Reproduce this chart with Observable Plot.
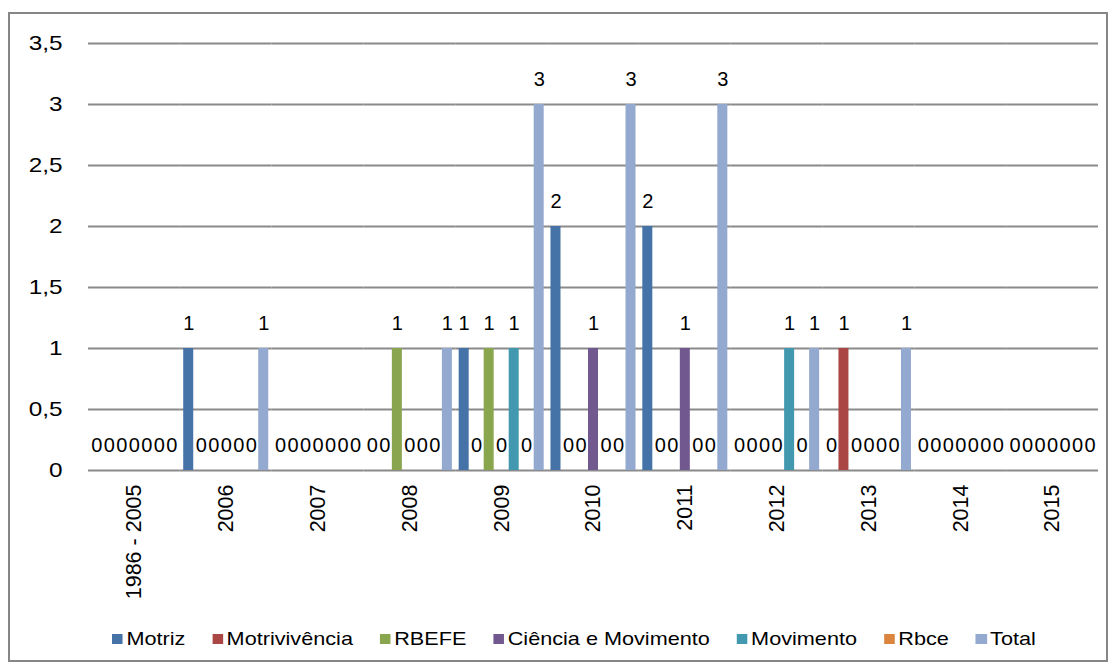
<!DOCTYPE html>
<html>
<head>
<meta charset="utf-8">
<script src="https://cdn.jsdelivr.net/npm/d3@7"></script>
<script src="https://cdn.jsdelivr.net/npm/@observablehq/plot@0.6"></script>
<style>
  html, body { margin: 0; padding: 0; background: #fff; }
  body { width: 1116px; height: 668px; position: relative; font-family: "Liberation Sans", Arial, sans-serif; }
  #frame { position: absolute; left: 8px; top: 12px; width: 1100px; height: 650px; box-sizing: border-box; border: 2px solid #868686; background: #fff; }
  #legend { position: absolute; left: 102px; top: 614px; display: flex; align-items: center; gap: 23px; font-size: 18.5px; color: #000; transform-origin: 0 50%; transform: scaleX(1.17); white-space: nowrap; }
  .item { display: flex; align-items: center; gap: 3px; }
  .sw { width: 9.3px; height: 10px; display: inline-block; }
</style>
</head>
<body>
<div id="frame"><div id="chart"></div><div id="legend"></div></div>
<script>
const categories = ["1986 - 2005", "2006", "2007", "2008", "2009", "2010", "2011", "2012", "2013", "2014", "2015"];
const series = ["Motriz", "Motrivivência", "RBEFE", "Ciência e Movimento", "Movimento", "Rbce", "Total"];
const colors = ["#4572A7", "#AA4643", "#89A54E", "#71588F", "#4198AF", "#DB843D", "#93A9CF"];
const motriz        = [0, 1, 0, 0, 1, 2, 2, 0, 0, 0, 0];
const motrivivencia = [0, 0, 0, 0, 0, 0, 0, 0, 1, 0, 0];
const rbefe         = [0, 0, 0, 1, 1, 0, 0, 0, 0, 0, 0];
const cienciaMov    = [0, 0, 0, 0, 0, 1, 1, 0, 0, 0, 0];
const movimento     = [0, 0, 0, 0, 1, 0, 0, 1, 0, 0, 0];
const rbce          = [0, 0, 0, 0, 0, 0, 0, 0, 0, 0, 0];
const total         = [0, 1, 0, 1, 3, 3, 3, 1, 1, 0, 0];
const yTicks = [0, 0.5, 1, 1.5, 2, 2.5, 3, 3.5];

const valuesBySeries = [motriz, motrivivencia, rbefe, cienciaMov, movimento, rbce, total];
const data = [];
categories.forEach((c, i) => {
  series.forEach((s, j) => data.push({cat: c, series: s, value: valuesBySeries[j][i]}));
});

const chart = Plot.plot({
  width: 1096,
  height: 600,
  marginLeft: 78,
  marginRight: 8,
  marginTop: 29,
  marginBottom: 144,
  style: {fontFamily: "'Liberation Sans', Arial, sans-serif", fontSize: "19px", color: "#000", background: "transparent"},
  fx: {domain: categories, padding: 0, round: false, label: null, axis: null},
  x: {domain: series, axis: null, round: false, paddingInner: 0.2, paddingOuter: 0.272},
  y: {domain: [0, 3.5], axis: null},
  color: {domain: series, range: colors},
  marks: [
    Plot.ruleY(yTicks, {stroke: "#8a8a8a", strokeWidth: 2}),
    Plot.barY(data, {fx: "cat", x: "series", y: "value", fill: "series"}),
    Plot.text(data, {fx: "cat", x: "series", y: "value", text: d => String(d.value), dy: -25, fontSize: 20, fill: "#000"}),
    Plot.axisY({ticks: yTicks, tickFormat: d => String(d).replace(".", ","), tickSize: 0, tickPadding: 26, fontSize: 21, label: null}),
    Plot.axisFx({anchor: "bottom", tickRotate: -90, tickSize: 0, tickPadding: 14, fontSize: 21.5, label: null})
  ]
});
document.getElementById("chart").appendChild(chart);

function stretch(el, sx, sy) {
  const t = el.getAttribute("transform") || "";
  const x = +el.getAttribute("x") || 0;
  const y = +el.getAttribute("y") || 0;
  el.setAttribute("transform", `${t} translate(${x},${y}) scale(${sx},${sy}) translate(${-x},${-y})`);
}
chart.querySelectorAll('g[aria-label="y-axis tick label"] text').forEach(el => stretch(el, 1.16, 1));

const legend = document.getElementById("legend");
series.forEach((s, j) => {
  const item = document.createElement("span");
  item.className = "item";
  const sw = document.createElement("span");
  sw.className = "sw";
  sw.style.background = colors[j];
  const label = document.createElement("span");
  label.textContent = s;
  item.appendChild(sw);
  item.appendChild(label);
  legend.appendChild(item);
});
</script>
</body>
</html>
